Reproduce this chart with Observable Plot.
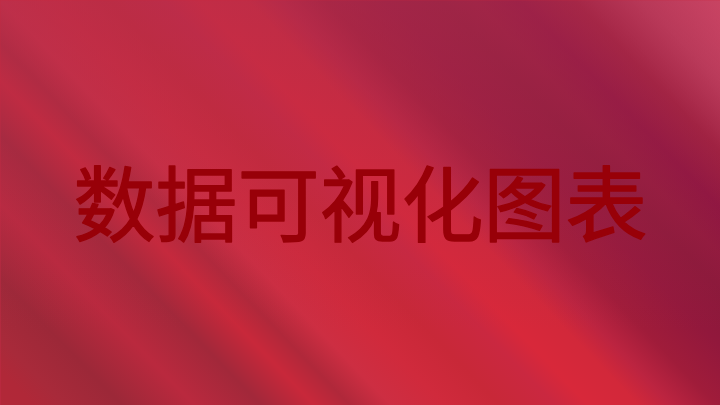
<!DOCTYPE html>
<html>
<head>
<meta charset="utf-8">
<script src="https://cdn.jsdelivr.net/npm/d3@7"></script>
<script src="https://cdn.jsdelivr.net/npm/@observablehq/plot@0.6"></script>
<style>
  html, body { margin: 0; padding: 0; background: #c02a44; overflow: hidden; }
  #chart svg { display: block; }
</style>
</head>
<body>
<div id="chart"></div>
<script>
// Text content of the slide
const titleLines = ["数据可视化图表"];

// Background gradient (style only): offsets across the diagonal streaks
const baseOffsets = [0.00, 0.03, 0.058, 0.11, 0.175, 0.235, 0.283, 0.315, 0.352, 0.40, 0.45, 0.50,
                     0.53, 0.575, 0.605, 0.645, 0.70, 0.75, 0.78, 0.82, 0.87, 0.93, 0.98, 1.00];
const baseColors  = ["#b22838", "#b02838", "#a82a3a", "#9c2838", "#ba293e", "#a2283a", "#c8283a",
                     "#b0283a", "#cd2e42", "#d02a3c", "#c82838", "#ca2840", "#d8283a", "#d2283a",
                     "#bc2440", "#a01c3a", "#92183c", "#8a183a", "#8e183c", "#88113e", "#991c3c",
                     "#c24262", "#dc5474", "#e55c78"];

const W = 720, H = 405;

const svg = Plot.plot({
  width: W,
  height: H,
  margin: 0,
  style: { background: "transparent" },
  x: { domain: [0, W], axis: null },
  y: { domain: [0, H], axis: null, reverse: true },
  marks: [
    Plot.frame({ fill: "url(#bgBase)", stroke: null }),
    Plot.frame({ fill: "url(#bgTint)", stroke: null }),
    Plot.text(titleLines, {
      text: d => d,
      frameAnchor: "middle",
      lineAnchor: "middle",
      dy: 6,
      fontSize: 82,
      fontFamily: "'Noto Sans CJK SC', sans-serif",
      fill: "#980008",
      stroke: "#980008",
      strokeWidth: 1.3
    })
  ]
});

const defs = d3.select(svg).insert("defs", ":first-child");
const g1 = defs.append("linearGradient")
  .attr("id", "bgBase")
  .attr("gradientUnits", "userSpaceOnUse")
  .attr("x1", 0).attr("y1", H)
  .attr("x2", 574).attr("y2", -150);
baseOffsets.forEach((o, i) => {
  g1.append("stop").attr("offset", o).attr("stop-color", baseColors[i]);
});
const g2 = defs.append("linearGradient")
  .attr("id", "bgTint")
  .attr("gradientUnits", "userSpaceOnUse")
  .attr("x1", 0).attr("y1", 0)
  .attr("x2", 0).attr("y2", 330);
g2.append("stop").attr("offset", 0).attr("stop-color", "#b03050").attr("stop-opacity", 0.55);
g2.append("stop").attr("offset", 1).attr("stop-color", "#b03050").attr("stop-opacity", 0);

document.getElementById("chart").appendChild(svg);
</script>
</body>
</html>
